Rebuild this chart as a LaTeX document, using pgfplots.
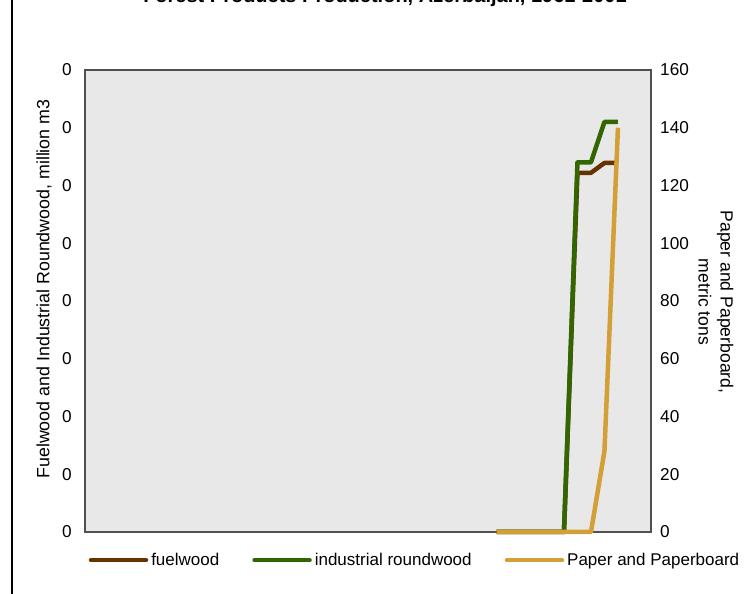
\documentclass[border=0pt]{standalone}
\usepackage{fontspec}
\setmainfont{Liberation Sans}
\usepackage{pgfplots}
\usepackage{pgfplotstable}
\pgfplotsset{compat=1.18}

\definecolor{fuelc}{HTML}{663300}
\definecolor{indusc}{HTML}{336600}
\definecolor{paperc}{HTML}{D39F37}
\definecolor{plotbg}{HTML}{E8E8E8}
\definecolor{framec}{HTML}{505050}

% million m3
\pgfplotstableread{
year fuel indus
1992 0 0
1993 0 0
1994 0 0
1995 0 0
1996 0 0
1997 0 0
1998 0.311 0.320
1999 0.311 0.320
2000 0.3195 0.355
2001 0.3195 0.355
}\woodtable

% metric tons
\pgfplotstableread{
year paper
1992 0
1993 0
1994 0
1995 0
1996 0
1997 0
1998 0
1999 0
2000 28
2001 140
}\papertable

\begin{document}
\begin{tikzpicture}[font=\fontsize{16.8}{20}\selectfont]
\pgfplotsset{
  every axis/.append style={
    scale only axis,
    width=566pt, height=462pt,
    xmin=1961.5, xmax=2003.45,
    xtick=\empty,
    major tick length=0pt,
    clip=false,
    axis line style={draw=framec, line width=1.6pt},
    tick label style={font=\fontsize{17.2}{20}\selectfont},
  },
}
\begin{axis}[
  axis background/.style={fill=plotbg},
  ymin=0, ymax=0.4,
  ytick={0,0.05,...,0.41},
  yticklabel={0},
  yticklabel style={anchor=east, inner sep=0pt, xshift=-13pt},
  legend columns=3,
  legend style={draw=none, fill=none, at={(0.001,-0.061)}, anchor=west,
    font=\fontsize{17}{20}\selectfont,
    nodes={inner sep=1pt},
    /tikz/every even column/.append style={column sep=32pt},
    /tikz/every odd column/.append style={column sep=2pt}},
  legend image code/.code={\draw[#1, line cap=round] (0pt,0pt) -- (55pt,0pt);},
]
\addplot[fuelc, line width=4.5pt, line join=round] table[x=year, y=fuel]{\woodtable};
\addlegendentry{fuelwood}
\addplot[indusc, line width=4.5pt, line join=round] table[x=year, y=indus]{\woodtable};
\addlegendentry{industrial roundwood}
\addlegendimage{paperc, line width=4.5pt}
\addlegendentry{Paper and Paperboard}
\end{axis}
\begin{axis}[
  axis x line=none,
  axis y line*=right,
  ymin=0, ymax=160,
  ytick={0,20,...,160},
  /pgf/number format/assume math mode=true,
  yticklabel style={anchor=west, inner sep=0pt, xshift=9pt},
]
\addplot[paperc, line width=4.5pt, line join=round] table[x=year, y=paper]{\papertable};
\end{axis}

\node[rotate=90, font=\fontsize{17.8}{21}\selectfont] at (-41pt,243pt) {Fuelwood and Industrial Roundwood, million m3};
\node[rotate=-90, align=center, font=\fontsize{17.6}{22}\selectfont] at (631pt,230pt) {Paper and Paperboard,\\metric tons};
\node[anchor=base, font=\bfseries\fontsize{20}{24}\selectfont] at (300pt,529pt) {Forest Products Production, Azerbaijan, 1961-2001};
\draw[line width=1.6pt] (-73pt,-70pt) -- (-73pt,540pt);

\pgfresetboundingbox
\useasboundingbox (-85pt,-62pt) rectangle (663pt,532pt);
\end{tikzpicture}
\end{document}
